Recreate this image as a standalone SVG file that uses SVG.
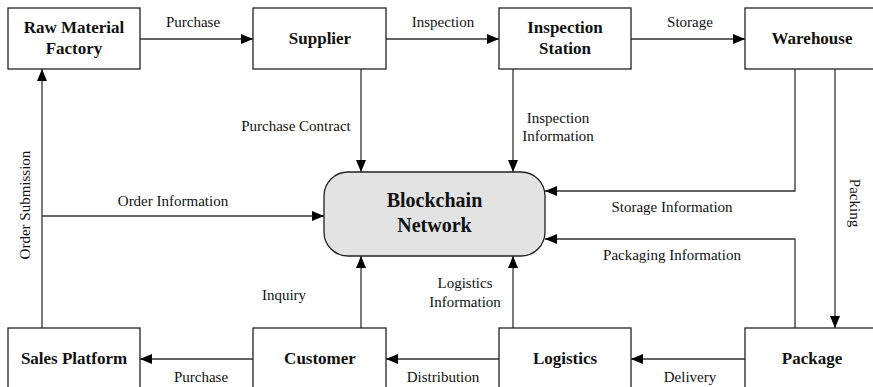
<svg xmlns="http://www.w3.org/2000/svg" width="873" height="387" viewBox="0 0 873 387">
  <style>
    .box { fill: #ffffff; stroke: #222; stroke-width: 1.3; }
    .hub { fill: #e3e3e3; stroke: #222; stroke-width: 1.3; }
    .node { font-family: "Liberation Serif", "Times New Roman", serif; font-weight: bold; font-size: 17px; fill: #111; text-anchor: middle; }
    .hubtext { font-family: "Liberation Serif", "Times New Roman", serif; font-weight: bold; font-size: 20px; fill: #111; text-anchor: middle; }
    .lbl { font-family: "Liberation Serif", "Times New Roman", serif; font-size: 15px; fill: #111; text-anchor: middle; }
    .edge { fill: none; stroke: #333; stroke-width: 1.3; }
  </style>
  <defs>
    <marker id="arrow" markerWidth="12" markerHeight="10" refX="12" refY="5" orient="auto" markerUnits="userSpaceOnUse">
      <path d="M0,0 L12,5 L0,10 Z" fill="#000"/>
    </marker>
  </defs>
  <rect width="873" height="387" fill="#ffffff"/>

  <!-- connectors -->
  <g id="connectors">
    <path class="edge" d="M140,39 H253" marker-end="url(#arrow)"/>
    <path class="edge" d="M386,39 H499" marker-end="url(#arrow)"/>
    <path class="edge" d="M631,39 H745" marker-end="url(#arrow)"/>
    <path class="edge" d="M361,69 V172" marker-end="url(#arrow)"/>
    <path class="edge" d="M513,69 V172" marker-end="url(#arrow)"/>
    <path class="edge" d="M795,69 V191 H545" marker-end="url(#arrow)"/>
    <path class="edge" d="M835,69 V328" marker-end="url(#arrow)"/>
    <path class="edge" d="M795,328 V239 H545" marker-end="url(#arrow)"/>
    <path class="edge" d="M42,328 V69" marker-end="url(#arrow)"/>
    <path class="edge" d="M42,216 H324" marker-end="url(#arrow)"/>
    <path class="edge" d="M361,328 V256" marker-end="url(#arrow)"/>
    <path class="edge" d="M513,328 V256" marker-end="url(#arrow)"/>
    <path class="edge" d="M253,359 H140" marker-end="url(#arrow)"/>
    <path class="edge" d="M499,359 H386" marker-end="url(#arrow)"/>
    <path class="edge" d="M745,359 H631" marker-end="url(#arrow)"/>

    <text class="lbl" x="193" y="27">Purchase</text>
    <text class="lbl" x="443" y="27">Inspection</text>
    <text class="lbl" x="690" y="27">Storage</text>
    <text class="lbl" x="296" y="131">Purchase Contract</text>
    <text class="lbl" x="558" y="123">Inspection</text>
    <text class="lbl" x="558" y="141">Information</text>
    <text class="lbl" x="173" y="206">Order Information</text>
    <text class="lbl" x="672" y="212">Storage Information</text>
    <text class="lbl" x="672" y="260">Packaging Information</text>
    <text class="lbl" x="284" y="300">Inquiry</text>
    <text class="lbl" x="465" y="288">Logistics</text>
    <text class="lbl" x="465" y="307">Information</text>
    <text class="lbl" x="201" y="382">Purchase</text>
    <text class="lbl" x="443" y="382">Distribution</text>
    <text class="lbl" x="690" y="382">Delivery</text>
    <text class="lbl" transform="translate(30,205) rotate(-90)">Order Submission</text>
    <text class="lbl" transform="translate(850,203) rotate(90)">Packing</text>
  </g>

  <g id="raw-material-factory">
    <rect class="box" x="8" y="8" width="132" height="61"/>
    <text class="node" x="74" y="33">Raw Material</text>
    <text class="node" x="74" y="54">Factory</text>
  </g>
  <g id="supplier">
    <rect class="box" x="253" y="8" width="133" height="61"/>
    <text class="node" x="320" y="44">Supplier</text>
  </g>
  <g id="inspection-station">
    <rect class="box" x="499" y="8" width="132" height="61"/>
    <text class="node" x="565" y="33">Inspection</text>
    <text class="node" x="565" y="54">Station</text>
  </g>
  <g id="warehouse">
    <rect class="box" x="745" y="8" width="134" height="61"/>
    <text class="node" x="812" y="44">Warehouse</text>
  </g>
  <g id="blockchain-network">
    <rect class="hub" x="324" y="172" width="221" height="84" rx="24" ry="24"/>
    <text class="hubtext" x="434.5" y="207">Blockchain</text>
    <text class="hubtext" x="434.5" y="232">Network</text>
  </g>
  <g id="sales-platform">
    <rect class="box" x="8" y="328" width="132" height="62"/>
    <text class="node" x="74" y="364">Sales Platform</text>
  </g>
  <g id="customer">
    <rect class="box" x="253" y="328" width="133" height="62"/>
    <text class="node" x="320" y="364">Customer</text>
  </g>
  <g id="logistics">
    <rect class="box" x="499" y="328" width="132" height="62"/>
    <text class="node" x="565" y="364">Logistics</text>
  </g>
  <g id="package">
    <rect class="box" x="745" y="328" width="134" height="62"/>
    <text class="node" x="812" y="364">Package</text>
  </g>
</svg>
